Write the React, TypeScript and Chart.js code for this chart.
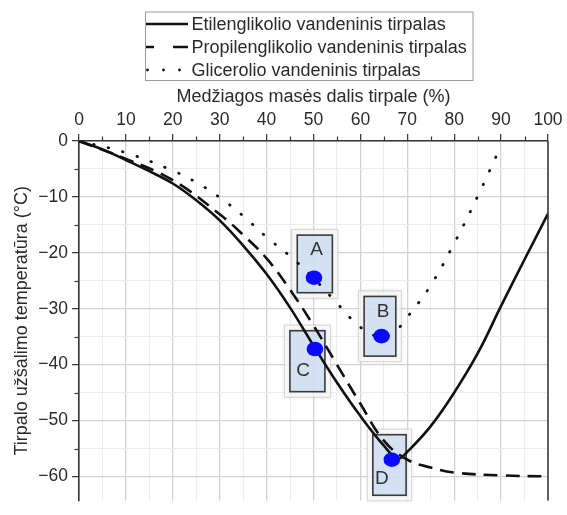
import React, { useEffect, useRef } from 'react';
import { Chart, registerables } from 'chart.js';

Chart.register(...registerables);

// ---------------- data ----------------
const SERIES_NAMES = [
  'Etilenglikolio vandeninis tirpalas',
  'Propilenglikolio vandeninis tirpalas',
  'Glicerolio vandeninis tirpalas',
];

const ETH_X = [0, 5, 10, 15, 20, 25, 30, 35, 40, 45, 50, 55, 60, 65, 68, 70, 75, 80, 85, 90, 95, 100];
const ETH_Y = [0, -1.5, -3.4, -5.4, -7.6, -10.6, -14.2, -18.7, -23.8, -29.8, -36.6, -43.2, -49.2, -54.5, -56.8, -55.6, -51, -45, -38, -29.5, -21.2, -13];

const PROP_X = [0, 10, 20, 30, 35, 40, 45, 50, 55, 60, 65, 70, 75, 80, 90, 100];
const PROP_Y = [0, -3.2, -7.0, -13.1, -16.8, -21, -26.6, -33, -40, -47, -53.6, -57, -58.4, -59.3, -59.8, -60];

const GLY_X = [0, 10, 20, 25, 30, 35, 40, 45, 50, 55, 60, 64, 67, 70, 75, 80, 85, 90];
const GLY_Y = [0, -2.1, -5.3, -7.4, -10.1, -13.4, -17.2, -20.6, -24.5, -29, -33.3, -35, -34.3, -31.5, -25.8, -18.3, -9.9, -0.8];

const X_TITLE = 'Medžiagos masės dalis tirpale (%)';
const Y_TITLE = 'Tirpalo užšalimo temperatūra (°C)';

const X_TICKS = [0, 5, 10, 15, 20, 25, 30, 35, 40, 45, 50, 55, 60, 65, 70, 75, 80, 85, 90, 95, 100];
const Y_TICKS = [0, -5, -10, -15, -20, -25, -30, -35, -40, -45, -50, -55, -60];
const X_MIN = 0;
const X_MAX = 100;
const Y_MIN = -64.3;
const Y_MAX = 0;

const ANN_LABELS = ['A', 'B', 'C', 'D'];
const ANN_X = [50.1, 64.5, 50.3, 66.7];
const ANN_Y = [-24.45, -34.9, -37.2, -57.0];

// ---------------- styling ----------------
const FONT = '"Liberation Sans", Arial, sans-serif';
const TEXT = '#2a2a2a';
const AXIS = '#333333';
const GRID_MAJOR = '#d2d2d2';
const GRID_MINOR = '#ececec';

// box placement relative to the marker (pixels): left, top, right, bottom, letter dx, dy
const BOX_LAYOUT = [
  { l: -16.7, t: -42.6, r: 18.4, b: 15, lx: 2.7, ly: -28.3 },
  { l: -17.4, t: -39.7, r: 14.3, b: 20, lx: 1.6, ly: -24.7 },
  { l: -25, t: -18.3, r: 10, b: 42.7, lx: -11.7, ly: 22 },
  { l: -19, t: -25, r: 14.3, b: 35.6, lx: -10, ly: 19 },
];

const pts = (xs: number[], ys: number[]) => xs.map((x, i) => ({ x, y: ys[i] }));

const boxesPlugin = {
  id: 'annBoxes',
  beforeDatasetsDraw(chart: any) {
    const { ctx, scales } = chart;
    const x = scales.x, y = scales.y;
    ctx.save();
    ANN_LABELS.forEach((_, i) => {
      const cx = x.getPixelForValue(ANN_X[i]);
      const cy = y.getPixelForValue(ANN_Y[i]);
      const L = BOX_LAYOUT[i];
      const bx = cx + L.l, by = cy + L.t, bw = L.r - L.l, bh = L.b - L.t;
      ctx.save();
      ctx.shadowColor = 'rgba(0,0,0,0.22)';
      ctx.shadowBlur = 4;
      ctx.fillStyle = 'rgba(255,255,255,0.75)';
      ctx.fillRect(bx - 5, by - 5, bw + 10, bh + 10);
      ctx.restore();
      ctx.strokeStyle = '#d6d6d6';
      ctx.lineWidth = 1;
      ctx.strokeRect(bx - 5.5, by - 5.5, bw + 11, bh + 11);
      ctx.fillStyle = 'rgba(188,212,240,0.6)';
      ctx.fillRect(bx, by, bw, bh);
      ctx.strokeStyle = '#3a3a3a';
      ctx.lineWidth = 1.6;
      ctx.strokeRect(bx, by, bw, bh);
    });
    ctx.restore();
  },
  afterDatasetsDraw(chart: any) {
    const { ctx, scales, chartArea } = chart;
    const x = scales.x, y = scales.y;
    ctx.save();
    // right frame line
    ctx.strokeStyle = AXIS;
    ctx.lineWidth = 1.5;
    ctx.beginPath();
    ctx.moveTo(chartArea.right, chartArea.top);
    ctx.lineTo(chartArea.right, chartArea.bottom);
    ctx.stroke();
    // minor ticks
    ctx.lineWidth = 1.2;
    X_TICKS.forEach((v) => {
      if (v % 10 !== 0) {
        const px = Math.round(x.getPixelForValue(v)) + 0.5;
        ctx.beginPath();
        ctx.moveTo(px, chartArea.top);
        ctx.lineTo(px, chartArea.top - 4.5);
        ctx.stroke();
      }
    });
    Y_TICKS.forEach((v) => {
      if (v % 10 !== 0) {
        const py = Math.round(y.getPixelForValue(v)) + 0.5;
        ctx.beginPath();
        ctx.moveTo(chartArea.left, py);
        ctx.lineTo(chartArea.left - 4.5, py);
        ctx.stroke();
      }
    });
    // markers and letters
    ANN_LABELS.forEach((lab, i) => {
      const cx = x.getPixelForValue(ANN_X[i]);
      const cy = y.getPixelForValue(ANN_Y[i]);
      const L = BOX_LAYOUT[i];
      ctx.fillStyle = '#0a0aff';
      ctx.beginPath();
      ctx.ellipse(cx, cy, 8.3, 7.3, 0, 0, Math.PI * 2);
      ctx.fill();
      ctx.fillStyle = '#333';
      ctx.font = `19px ${FONT}`;
      ctx.textAlign = 'center';
      ctx.textBaseline = 'middle';
      ctx.fillText(lab, cx + L.lx, cy + L.ly);
    });
    ctx.restore();
  },
};

const legendPlugin = {
  id: 'boxLegend',
  afterDraw(chart: any) {
    const { ctx } = chart;
    ctx.save();
    const left = 145, top = 11.5, right = 472.5, bottom = 80;
    ctx.fillStyle = '#fff';
    ctx.fillRect(left, top, right - left, bottom - top);
    ctx.strokeStyle = '#9a9a9a';
    ctx.lineWidth = 1;
    ctx.strokeRect(left + 0.5, top + 0.5, right - left, bottom - top);
    const rows = [24, 47, 70];
    ctx.strokeStyle = '#111';
    ctx.fillStyle = '#111';
    ctx.lineWidth = 2.5;
    // solid
    ctx.beginPath();
    ctx.moveTo(146, rows[0]);
    ctx.lineTo(188, rows[0]);
    ctx.stroke();
    // dashed
    ctx.beginPath();
    ctx.moveTo(146, rows[1]);
    ctx.lineTo(154, rows[1]);
    ctx.moveTo(173, rows[1]);
    ctx.lineTo(188, rows[1]);
    ctx.stroke();
    // dotted
    [147.5, 163.5, 179.5].forEach((dx) => {
      ctx.beginPath();
      ctx.arc(dx, rows[2], 1.4, 0, Math.PI * 2);
      ctx.fill();
    });
    ctx.fillStyle = TEXT;
    ctx.font = `18px ${FONT}`;
    ctx.textAlign = 'left';
    ctx.textBaseline = 'middle';
    SERIES_NAMES.forEach((n, i) => ctx.fillText(n, 191.5, rows[i] + 1));
    ctx.restore();
  },
};

export default function App() {
  const ref = useRef<HTMLCanvasElement | null>(null);

  useEffect(() => {
    if (!ref.current) return;
    const lineBase = {
      pointRadius: 0,
      pointHoverRadius: 0,
      fill: false,
      borderColor: '#111',
      tension: 0.4,
    };
    const chart = new Chart(ref.current, {
      type: 'line',
      data: {
        datasets: [
          { ...lineBase, label: SERIES_NAMES[0], data: pts(ETH_X, ETH_Y), borderWidth: 2.6 },
          { ...lineBase, label: SERIES_NAMES[1], data: pts(PROP_X, PROP_Y), borderWidth: 2.6, borderDash: [14, 8] },
          {
            ...lineBase,
            label: SERIES_NAMES[2],
            data: pts(GLY_X, GLY_Y),
            borderWidth: 2.8,
            borderDash: [0.5, 14.5],
            borderCapStyle: 'round',
          },
        ],
      },
      options: {
        animation: false,
        responsive: false,
        devicePixelRatio: 1,
        layout: { padding: { top: 84, right: 19, left: 0, bottom: 0 } },
        plugins: { legend: { display: false }, tooltip: { enabled: false } },
        scales: {
          x: {
            type: 'linear',
            position: 'top',
            min: X_MIN,
            max: X_MAX,
            afterBuildTicks: (s: any) => {
              s.ticks = X_TICKS.map((v) => ({ value: v }));
            },
            afterFit: (s: any) => {
              s.height = 57;
            },
            title: {
              display: true,
              text: X_TITLE,
              color: TEXT,
              font: { family: FONT, size: 18 },
              padding: { top: 2, bottom: 0 },
            },
            ticks: {
              color: TEXT,
              font: { family: FONT, size: 17.5 },
              padding: 3,
              maxRotation: 0,
              autoSkip: false,
              callback: (v: any) => (Number(v) % 10 === 0 ? String(v) : ''),
            },
            grid: {
              color: (c: any) => (c.tick && c.tick.value % 10 === 0 ? GRID_MAJOR : GRID_MINOR),
              lineWidth: (c: any) => (c.tick && c.tick.value % 10 === 0 ? 1.3 : 1),
              tickColor: (c: any) => (c.tick && c.tick.value % 10 === 0 ? AXIS : 'rgba(0,0,0,0)'),
              tickLength: 7,
              tickWidth: 1.2,
              drawTicks: true,
            },
            border: { display: true, color: AXIS, width: 1.6 },
          },
          y: {
            type: 'linear',
            position: 'left',
            min: Y_MIN,
            max: Y_MAX,
            afterBuildTicks: (s: any) => {
              s.ticks = Y_TICKS.map((v) => ({ value: v }));
            },
            afterFit: (s: any) => {
              s.width = 79;
            },
            title: {
              display: true,
              text: Y_TITLE,
              color: TEXT,
              font: { family: FONT, size: 18 },
              padding: { top: 11, bottom: 0 },
            },
            ticks: {
              color: TEXT,
              font: { family: FONT, size: 17.5 },
              padding: 4,
              autoSkip: false,
              callback: (v: any) => {
                const n = Number(v);
                if (n % 10 !== 0) return '';
                return n < 0 ? '\u2212' + Math.abs(n) : String(n);
              },
            },
            grid: {
              color: (c: any) => (c.tick && c.tick.value % 10 === 0 ? GRID_MAJOR : GRID_MINOR),
              lineWidth: (c: any) => (c.tick && c.tick.value % 10 === 0 ? 1.3 : 1),
              tickColor: (c: any) => (c.tick && c.tick.value % 10 === 0 ? AXIS : 'rgba(0,0,0,0)'),
              tickLength: 7,
              tickWidth: 1.2,
              drawTicks: true,
            },
            border: { display: true, color: AXIS, width: 1.6 },
          },
        },
      },
      plugins: [boxesPlugin, legendPlugin],
    } as any);
    return () => chart.destroy();
  }, []);

  return (
    <div style={{ position: 'fixed', left: 0, top: 0, width: 567, height: 515, overflow: 'hidden', background: '#fff' }}>
      <canvas ref={ref} width={567} height={515} style={{ width: 567, height: 515, display: 'block' }} />
    </div>
  );
}
